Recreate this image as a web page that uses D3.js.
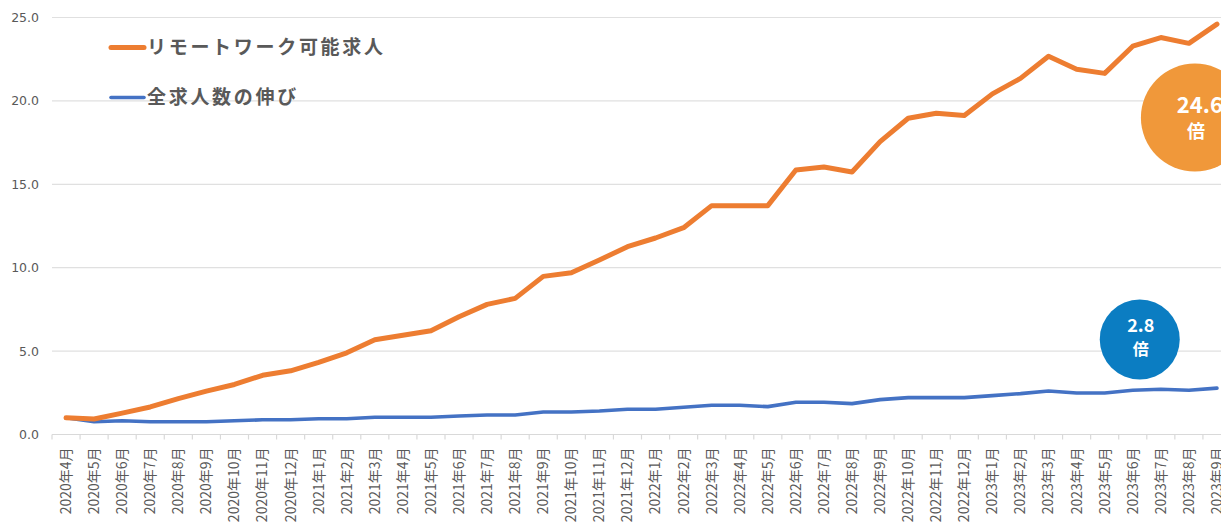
<!DOCTYPE html>
<html><head><meta charset="utf-8">
<script src="https://cdn.jsdelivr.net/npm/d3@7"></script>
<style>
html,body{margin:0;padding:0;background:#fff;overflow:hidden;}
svg{display:block;}
</style></head>
<body>
<svg id="chart" width="1221" height="522"></svg>
<script>
const months = ["2020年4月","2020年5月","2020年6月","2020年7月","2020年8月","2020年9月","2020年10月","2020年11月","2020年12月",
"2021年1月","2021年2月","2021年3月","2021年4月","2021年5月","2021年6月","2021年7月","2021年8月","2021年9月","2021年10月","2021年11月","2021年12月",
"2022年1月","2022年2月","2022年3月","2022年4月","2022年5月","2022年6月","2022年7月","2022年8月","2022年9月","2022年10月","2022年11月","2022年12月",
"2023年1月","2023年2月","2023年3月","2023年4月","2023年5月","2023年6月","2023年7月","2023年8月","2023年9月"];
const remoteJobs = [1.0,0.93,1.28,1.65,2.15,2.6,3.0,3.55,3.82,4.32,4.9,5.68,5.95,6.22,7.06,7.8,8.16,9.48,9.7,10.46,11.26,11.78,12.4,13.72,13.72,13.72,15.86,16.04,15.74,17.56,18.96,19.26,19.12,20.42,21.35,22.68,21.9,21.65,23.28,23.8,23.45,24.6];
const allJobs = [1.0,0.76,0.82,0.76,0.76,0.76,0.82,0.88,0.88,0.94,0.94,1.03,1.03,1.03,1.11,1.17,1.17,1.35,1.35,1.41,1.51,1.51,1.63,1.75,1.75,1.67,1.93,1.93,1.85,2.09,2.21,2.21,2.21,2.33,2.45,2.61,2.49,2.49,2.65,2.71,2.65,2.78];
const yTicks = [0,5,10,15,20,25];
const seriesNames = ["リモートワーク可能求人","全求人数の伸び"];
const badgeLabels = ["24.6","2.8"];
const badgeUnit = "倍";

const svg = d3.select("#chart");
const x = d3.scaleBand().domain(months).range([52,1231]);
const y = d3.scaleLinear().domain([0,25]).range([434.5,17.5]);
const cx = d => x(d) + x.bandwidth()/2;

// gridlines
svg.append("g").selectAll("line").data(yTicks.filter(d=>d>0)).join("line")
  .attr("x1",52).attr("x2",1231).attr("y1",d=>y(d)).attr("y2",d=>y(d))
  .attr("stroke","#e0e0e0").attr("stroke-width",1.2);

// y labels
const yAxis = d3.axisLeft(y).tickValues(yTicks).tickFormat(d3.format(".1f")).tickSize(0).tickPadding(0);
const yg = svg.append("g").attr("transform","translate(39,0)").call(yAxis);
yg.select(".domain").remove();
yg.selectAll("text").attr("fill","#595959").style("font-family","DejaVu Sans, Verdana, sans-serif").style("font-size","12.5px");

// x axis line and ticks
svg.append("line").attr("x1",52).attr("x2",1231).attr("y1",y(0)).attr("y2",y(0)).attr("stroke","#d9d9d9").attr("stroke-width",1.2);
svg.append("g").selectAll("line").data(months.map(m=>x(m)).concat([x.range()[1]])).join("line")
  .attr("x1",d=>d).attr("x2",d=>d).attr("y1",y(0)).attr("y2",y(0)+5)
  .attr("stroke","#d9d9d9").attr("stroke-width",1.2);

// x labels
const xAxis = d3.axisBottom(x).tickSize(0).tickPadding(0);
const xg = svg.append("g").attr("transform",`translate(0,${y(0)})`).call(xAxis);
xg.select(".domain").remove();
xg.selectAll("text")
  .attr("transform","translate(0,13) rotate(-90)")
  .attr("x",0).attr("y",0).attr("dy","0.35em")
  .style("text-anchor","end")
  .attr("fill","#595959")
  .style("font-family","'Noto Sans CJK JP', sans-serif")
  .style("font-size","14px");

// lines
const line = d3.line().x((d,i)=>cx(months[i])).y(d=>y(d));
svg.append("path").datum(allJobs).attr("d",line).attr("fill","none")
  .attr("stroke","#4472C4").attr("stroke-width",3.6).attr("stroke-linejoin","round").attr("stroke-linecap","round");
svg.append("path").datum(remoteJobs).attr("d",line).attr("fill","none")
  .attr("stroke","#ED7D31").attr("stroke-width",5).attr("stroke-linejoin","round").attr("stroke-linecap","round");

// legend
const legColors = ["#ED7D31","#4472C4"];
const legY = [47.5,97.5];
const lg = svg.append("g");
seriesNames.forEach((n,i)=>{
  lg.append("line").attr("x1",111).attr("x2",144).attr("y1",legY[i]).attr("y2",legY[i])
    .attr("stroke",legColors[i]).attr("stroke-width",i===0?5:3.6).attr("stroke-linecap","round");
  lg.append("text").attr("x",147).attr("y",legY[i]).attr("dy","0.36em")
    .text(n).attr("fill","#595959")
    .style("font-family","'Noto Sans CJK JP', sans-serif").style("font-weight","bold")
    .style("font-size","19px").style("letter-spacing","2.7px");
});

// badges
const badges = [
  {label:badgeLabels[0], cx: cx(months[40]) + 6, cy: y(19.0), r:54, fill:"#F0983A", fs:22, fs2:18, dy1:-5, dy2:20, tx:5},
  {label:badgeLabels[1], cx: cx(months[38]) + 7, cy: y(5.7), r:40, fill:"#0B7DC2", fs:18, fs2:16, dy1:-7, dy2:16, tx:1}
];
badges.forEach(b=>{
  const g = svg.append("g");
  g.append("circle").attr("cx",b.cx).attr("cy",b.cy).attr("r",b.r).attr("fill",b.fill);
  g.append("text").attr("x",b.cx+b.tx).attr("y",b.cy+b.dy1).text(b.label)
    .attr("fill","#fff").attr("text-anchor","middle")
    .style("font-family","'Noto Sans CJK JP', sans-serif").style("font-weight","bold").style("font-size",b.fs+"px");
  g.append("text").attr("x",b.cx+1).attr("y",b.cy+b.dy2).text(badgeUnit)
    .attr("fill","#fff").attr("text-anchor","middle")
    .style("font-family","'Noto Sans CJK JP', sans-serif").style("font-weight","bold").style("font-size",b.fs2+"px");
});
</script>
</body></html>
